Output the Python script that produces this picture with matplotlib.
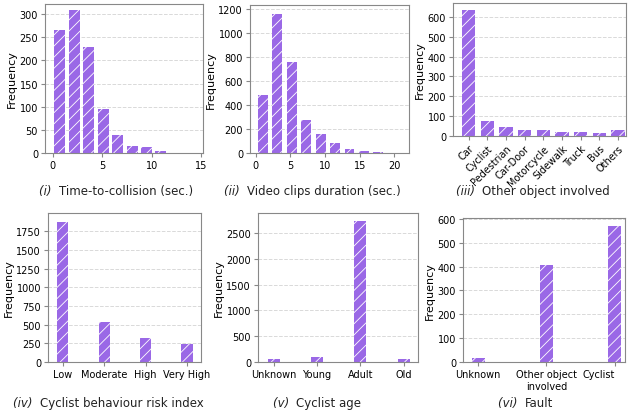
import numpy as np
import matplotlib.pyplot as plt

plt.rcParams['hatch.linewidth'] = 0.6
purple = '#9a68e6'

# (i) time to collision histogram
ttc_edges = np.linspace(0, 14.6, 11)
ttc_counts = [265, 310, 228, 95, 38, 15, 13, 4, 1, 1]

# (ii) video clip duration histogram
dur_edges = np.linspace(0, 20.8, 11)
dur_counts = [480, 1155, 760, 275, 160, 85, 35, 18, 5, 2]

# (iii) other object involved
obj_labels = ['Car', 'Cyclist', 'Pedestrian', 'Car-Door', 'Motorcycle',
              'Sidewalk', 'Truck', 'Bus', 'Others']
obj_counts = [635, 75, 45, 28, 28, 22, 18, 15, 32]

# (iv) cyclist behaviour risk index
risk_labels = ['Low', 'Moderate', 'High', 'Very High']
risk_counts = [1875, 530, 325, 240]

# (v) cyclist age
age_labels = ['Unknown', 'Young', 'Adult', 'Old']
age_counts = [55, 95, 2740, 60]

# (vi) fault
fault_labels = ['Unknown', 'Other object\ninvolved', 'Cyclist']
fault_counts = [15, 405, 572]

W, H = 628, 414
fig = plt.figure(figsize=(W / 100, H / 100), dpi=100)


def make_ax(l, r, t, b):
    return fig.add_axes([l / W, 1 - b / H, (r - l) / W, (b - t) / H])


def style(ax):
    ax.set_axisbelow(True)
    ax.yaxis.grid(True, linestyle='--', color='#d9d9d9', linewidth=0.7)
    for s in ax.spines.values():
        s.set_color('#888888')
        s.set_linewidth(0.8)
    ax.tick_params(labelsize=7, length=3, color='#888888', pad=2)
    ax.set_ylabel('Frequency', fontsize=8, labelpad=2)


bar_kw = dict(color=purple, edgecolor='white', hatch='///', linewidth=0)

ax1 = make_ax(45, 203, 5, 154)
ax1.hist(ttc_edges[:-1], bins=ttc_edges, weights=ttc_counts, rwidth=0.76, **bar_kw)
ax1.set_xlim(-0.78, 15.2)
ax1.set_ylim(0, 322)
ax1.set_xticks([0, 5, 10, 15])
style(ax1)

ax2 = make_ax(250, 409, 6, 154)
ax2.hist(dur_edges[:-1], bins=dur_edges, weights=dur_counts, rwidth=0.68, **bar_kw)
ax2.set_xlim(-0.82, 22.1)
ax2.set_ylim(0, 1233)
ax2.set_xticks([0, 5, 10, 15, 20])
style(ax2)

ax3 = make_ax(453, 626, 4, 137)
x3 = np.arange(len(obj_labels))
ax3.bar(x3, obj_counts, width=0.7, **bar_kw)
ax3.set_xlim(-0.84, 8.43)
ax3.set_ylim(0, 670)
ax3.set_yticks(range(0, 700, 100))
ax3.set_xticks(x3)
ax3.set_xticklabels(obj_labels, rotation=45, ha='right', rotation_mode='anchor')
style(ax3)

ax4 = make_ax(48, 201, 214, 363)
x4 = np.arange(len(risk_labels))
ax4.bar(x4, risk_counts, width=0.27, **bar_kw)
ax4.set_xlim(-0.36, 3.34)
ax4.set_ylim(0, 1995)
ax4.set_xticks(x4)
ax4.set_xticklabels(risk_labels)
ax4.set_yticks([0, 250, 500, 750, 1000, 1250, 1500, 1750])
style(ax4)

ax5 = make_ax(258, 418, 214, 363)
x5 = np.arange(len(age_labels))
ax5.bar(x5, age_counts, width=0.28, **bar_kw)
ax5.set_xlim(-0.36, 3.33)
ax5.set_ylim(0, 2890)
ax5.set_xticks(x5)
ax5.set_xticklabels(age_labels)
style(ax5)

ax6 = make_ax(463, 625, 219, 363)
x6 = np.arange(len(fault_labels))
ax6.bar(x6, fault_counts, width=0.19, **bar_kw)
ax6.set_xlim(-0.22, 2.15)
ax6.set_ylim(0, 604)
ax6.set_xticks(x6)
ax6.set_xticklabels(fault_labels)
style(ax6)
ax6.get_xticklabels()[-1].set_ha('right')

captions = [
    (116, 191, '(i)', 'Time-to-collision (sec.)'),
    (312, 191, '(ii)', 'Video clips duration (sec.)'),
    (533, 191, '(iii)', 'Other object involved'),
    (108, 404, '(iv)', 'Cyclist behaviour risk index'),
    (317, 404, '(v)', 'Cyclist age'),
    (526, 404, '(vi)', 'Fault'),
]
fig.canvas.draw()
rend = fig.canvas.get_renderer()
for cx, cy, num, txt in captions:
    t = fig.text(0, 1 - cy / H, num + '  ', fontsize=8.5, style='italic',
                 ha='right', va='center', color='#222222')
    full = fig.text(0, 1 - cy / H, txt, fontsize=8.5, va='center', color='#222222')
    w1 = t.get_window_extent(renderer=rend).width
    w2 = full.get_window_extent(renderer=rend).width
    left = cx - (w1 + w2) / 2
    t.set_x((left + w1) / W)
    full.set_x((left + w1) / W)

fig.savefig('out.png', dpi=100)
